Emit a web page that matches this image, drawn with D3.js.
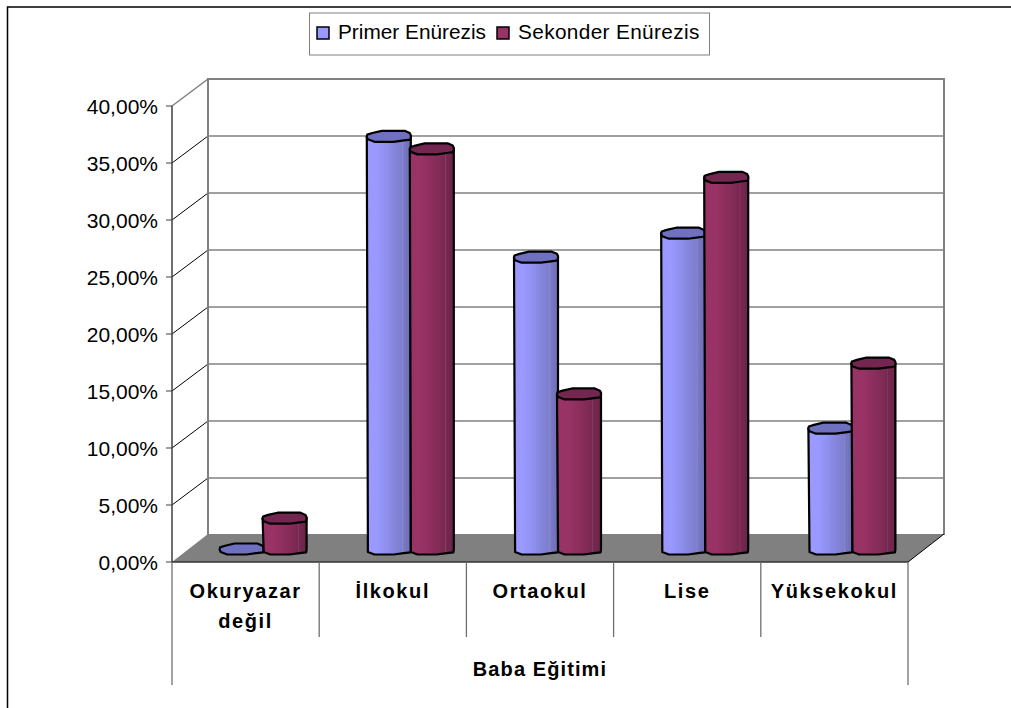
<!DOCTYPE html>
<html>
<head>
<meta charset="utf-8">
<script src="https://cdn.jsdelivr.net/npm/d3@7"></script>
<style>
html,body{margin:0;padding:0;background:#fff}
svg{display:block}
text{font-family:"Liberation Sans",Arial,sans-serif;fill:#000}
</style>
</head>
<body>
<svg id="chart" width="1011" height="708"></svg>
<script>
const categories = [["Okuryazar","değil"],["İlkokul"],["Ortaokul"],["Lise"],["Yüksekokul"]];
const seriesNames = ["Primer Enürezis","Sekonder Enürezis"];
const primer = [0, 36.2, 25.6, 27.7, 10.6];
const sekonder = [2.7, 35.1, 13.6, 32.6, 16.3];
const yTicks = [0,5,10,15,20,25,30,35,40];
const xTitle = "Baba Eğitimi";

const svg = d3.select("#chart");
const W = 1011, H = 708;

// Box geometry of the pseudo-3D plot
const depthX = 36, depthY = -27;
const x = d3.scaleBand().domain(d3.range(categories.length)).range([172,908]);
const xSeries = d3.scaleBand().domain([0,1]).range([-43,43]);
const y = d3.scaleLinear().domain([0,40]).range([562,106]);
const barDepthX = 17.5, barDepthY = -13;

// Column fills, banded left to right
const defs = svg.append("defs");
const fills = [
  {id:"fillA", stops:[[0,"#9999ff"],[.22,"#9999ff"],[.45,"#8f8fee"],[.62,"#8585dc"],[.8,"#7d7dcc"],[.81,"#8a8ad4"],[.84,"#7878c4"],[1,"#6e6eb6"]], top:"#7070c0"},
  {id:"fillB", stops:[[0,"#993366"],[.25,"#993366"],[.5,"#8c2e5d"],[.7,"#802b55"],[.8,"#782850"],[.81,"#8a4068"],[.83,"#762850"],[1,"#6b2448"]], top:"#732650"}
];
fills.forEach(f=>{
  const g = defs.append("linearGradient").attr("id",f.id).attr("x1",0).attr("x2",1).attr("y1",0).attr("y2",0);
  f.stops.forEach(s=>g.append("stop").attr("offset",s[0]).attr("stop-color",s[1]));
});

svg.append("path").attr("d",`M7.5,708V7H${W}`).attr("fill","none").attr("stroke","#000").attr("stroke-width",1.5);

// Back wall and its gridlines
const wall = svg.append("g");
wall.selectAll("line.grid").data(yTicks.slice(1)).join("line")
  .attr("x1",x.range()[0]+depthX).attr("x2",x.range()[1]+depthX)
  .attr("y1",d=>y(d)+depthY).attr("y2",d=>y(d)+depthY)
  .attr("stroke","#808080").attr("stroke-width",d=>d===40?2:1.5);
wall.selectAll("line.side").data(yTicks.slice(1)).join("line")
  .attr("x1",x.range()[0]).attr("x2",x.range()[0]+depthX)
  .attr("y1",d=>y(d)).attr("y2",d=>y(d)+depthY)
  .attr("stroke",d=>d===40?"#808080":"#000").attr("stroke-width",d=>d===40?1.5:1);
[x.range()[0]+depthX, x.range()[1]+depthX].forEach(px=>{
  wall.append("line").attr("x1",px).attr("x2",px)
    .attr("y1",y(40)+depthY-1).attr("y2",y(0)+depthY).attr("stroke","#808080").attr("stroke-width",2);
});

// Floor
const fl = x.range()[0], fr = x.range()[1], f0 = y(0), floorBack = f0 + depthY - 1;
svg.append("path").attr("d",`M${fl},${f0}L${fl+depthX},${floorBack}L${fr+depthX},${floorBack}L${fr},${f0}Z`)
  .attr("fill","#808080");
svg.append("line").attr("x1",fr).attr("y1",f0).attr("x2",fr+depthX).attr("y2",floorBack).attr("stroke","#000").attr("stroke-width",1);

// Value axis
const axis = svg.append("g");
axis.append("line").attr("x1",fl).attr("x2",fl).attr("y1",y(40)).attr("y2",y(0)).attr("stroke","#404040").attr("stroke-width",1.5);
axis.selectAll("line.tick").data(yTicks).join("line")
  .attr("x1",fl-6).attr("x2",fl).attr("y1",d=>y(d)).attr("y2",d=>y(d)).attr("stroke","#404040").attr("stroke-width",1);
axis.selectAll("text").data(yTicks).join("text")
  .attr("x",158).attr("y",d=>y(d)+7.5).attr("text-anchor","end").attr("font-size",21)
  .text(d=>d3.format(".2f")(d).replace(".",",")+"%");

// Category axis
svg.append("line").attr("x1",fl).attr("x2",fr).attr("y1",f0).attr("y2",f0).attr("stroke","#333").attr("stroke-width",1.5);
const divs = x.domain().map(i=>x(i)).concat([fr]);
svg.selectAll("line.div").data(divs).join("line")
  .attr("x1",d=>d).attr("x2",d=>d).attr("y1",f0)
  .attr("y2",(d,i)=>(i===0||i===divs.length-1)?685:637)
  .attr("stroke","#707070").attr("stroke-width",1.3);
categories.forEach((lines,i)=>{
  lines.forEach((t,j)=>{
    svg.append("text").attr("x",x(i)+x.bandwidth()/2).attr("y",598+j*30)
      .attr("text-anchor","middle").attr("font-size",20).attr("font-weight","bold")
      .attr("letter-spacing",1.6).text(t);
  });
});
svg.append("text").attr("x",540).attr("y",676).attr("text-anchor","middle")
  .attr("font-size",20).attr("font-weight","bold").attr("letter-spacing",1.1).text(xTitle);

// Faceted outline of a column cap, unit offsets around its centre
const capUpper = [[-1,.15],[-.98,-.3],[-.75,-.6],[-.32,-1],[.72,-1],[.95,-.6],[1,-.2],[1,.1]];
const capLower = [[1,.1],[.98,.6],[.68,.75],[.22,1],[-.65,1],[-.95,.55]];
const rx = xSeries.bandwidth()/2 + .5, ry = 5.5;
const pt = (cx,cy,p)=>[cx+p[0]*rx, cy+p[1]*ry];
const line = d3.line();

function drawColumn(g,i,s,v){
  const cx = x(i)+x.bandwidth()/2+xSeries(s)+xSeries.bandwidth()/2+barDepthX;
  const top = y(v)+barDepthY, bot = y(0)+barDepthY;
  if(v>0){
    const lowerBottom = capLower.map(p=>pt(cx,bot,p));
    const body = [[cx-rx,top]].concat([[cx+rx,top]],lowerBottom);
    g.append("path").attr("d",line(body)+"Z").attr("fill",`url(#${fills[s].id})`)
      .attr("stroke","#000").attr("stroke-width",2.2).attr("stroke-linejoin","round");
  }
  const cap = capUpper.concat(capLower.slice(1)).map(p=>pt(cx,top,p));
  g.append("path").attr("d",line(cap)+"Z").attr("fill",fills[s].top)
    .attr("stroke","#000").attr("stroke-width",2.2).attr("stroke-linejoin","round");
}
const columns = svg.append("g");
categories.forEach((c,i)=>{
  drawColumn(columns,i,0,primer[i]);
  drawColumn(columns,i,1,sekonder[i]);
});

// Legend
const legend = svg.append("g");
legend.append("rect").attr("x",309.5).attr("y",13).attr("width",400).attr("height",42)
  .attr("fill","#fff").attr("stroke","#808080").attr("stroke-width",1);
const legendRect = [317,497], legendText = [338,518], legendSpacing = [0,.35];
seriesNames.forEach((n,i)=>{
  legend.append("rect").attr("x",legendRect[i]).attr("y",27).attr("width",12).attr("height",12)
    .attr("fill",fills[i].stops[0][1]).attr("stroke","#000").attr("stroke-width",1.5);
  legend.append("text").attr("x",legendText[i]).attr("y",39).attr("font-size",20.8)
    .attr("letter-spacing",legendSpacing[i]).text(n);
});
</script>
</body>
</html>
